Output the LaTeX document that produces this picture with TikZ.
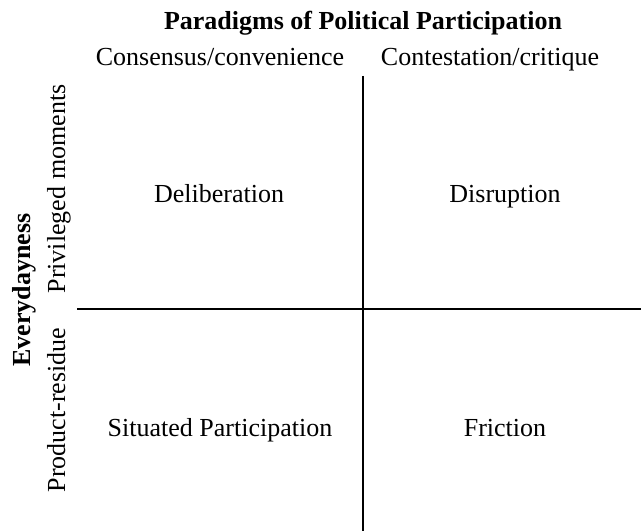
\documentclass[tikz,border=0pt]{standalone}
\usepackage{fontspec}
\setmainfont{Liberation Serif}
\usetikzlibrary{positioning}

\begin{document}
\begin{tikzpicture}[x=0.4615pt, y=-0.4615pt, axis/.style={draw, line width=0.9pt}, txt/.style={anchor=base, font=\fontsize{12}{14}\selectfont}, heading/.style={txt, font=\fontsize{12}{14}\selectfont\bfseries}, sidetxt/.style={txt, rotate=90}]
    \useasboundingbox (0,0) rectangle (641,531);

    % headings
    \node[heading] (title) at (363,30) {Paradigms of Political Participation};
    \node[txt] (cons) at (220,66) {Consensus/convenience};
    \node[txt] (cont) at (490,66) {Contestation/critique};
    \node[heading, rotate=90] (every) at (31,290) {Everydayness};
    \node[sidetxt] (priv) at (65,189) {Privileged moments};
    \node[sidetxt] (prod) at (65,410) {Product-residue};

    % quadrants
    \node[txt] (delib) at (219,203) {Deliberation};
    \node[txt] (disr) at (505,203) {Disruption};
    \node[txt] (sit) at (220,437) {Situated Participation};
    \node[txt] (fric) at (505,437) {Friction};

    % axes
    \coordinate (vtop) at (363,76);
    \coordinate (vbot) at (363,531);
    \coordinate (hleft) at (77,309);
    \coordinate (hright) at (641,309);
    \draw[axis] (vtop) -- (vbot);
    \draw[axis] (hleft) -- (hright);
\end{tikzpicture}
\end{document}
